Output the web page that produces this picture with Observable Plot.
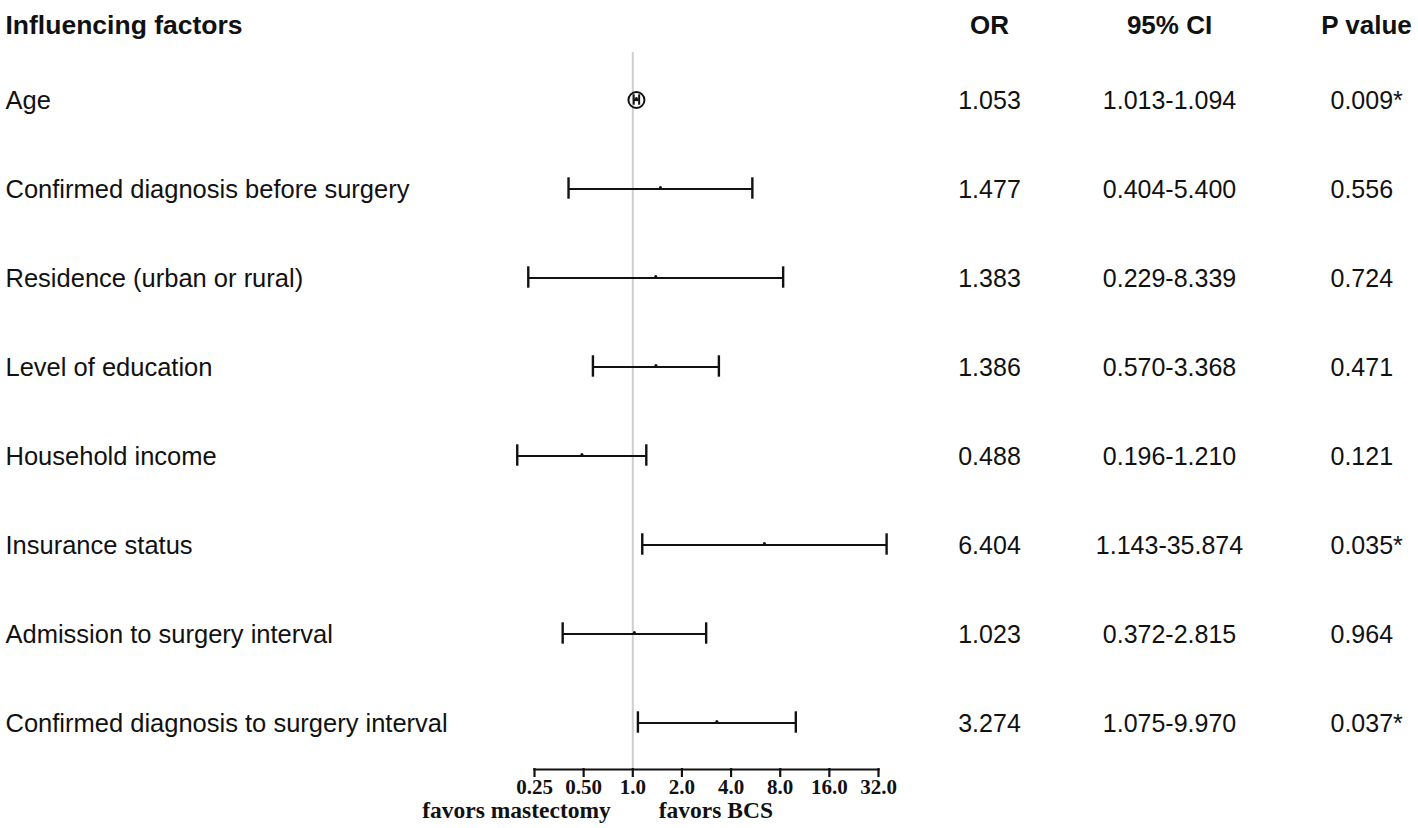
<!DOCTYPE html>
<html>
<head>
<meta charset="utf-8">
<script src="https://cdn.jsdelivr.net/npm/d3@7"></script>
<script src="https://cdn.jsdelivr.net/npm/@observablehq/plot@0.6"></script>
<style>
  html, body { margin: 0; padding: 0; background: #fff; }
  #chart svg { display: block; }
</style>
</head>
<body>
<div id="chart"></div>
<script>
const factors = [
  "Age",
  "Confirmed diagnosis before surgery",
  "Residence (urban or rural)",
  "Level of education",
  "Household income",
  "Insurance status",
  "Admission to surgery interval",
  "Confirmed diagnosis to surgery interval"
];
const oddsRatios = [1.053, 1.477, 1.383, 1.386, 0.488, 6.404, 1.023, 3.274];
const ciLower = [1.013, 0.404, 0.229, 0.570, 0.196, 1.143, 0.372, 1.075];
const ciUpper = [1.094, 5.400, 8.339, 3.368, 1.210, 35.874, 2.815, 9.970];
const pValues = ["0.009*", "0.556", "0.724", "0.471", "0.121", "0.035*", "0.964", "0.037*"];
const headers = ["Influencing factors", "OR", "95% CI", "P value"];
const tickValues = [0.25, 0.5, 1, 2, 4, 8, 16, 32];
const tickLabels = ["0.25", "0.50", "1.0", "2.0", "4.0", "8.0", "16.0", "32.0"];
const favorsLabels = ["favors mastectomy", "favors BCS"];
const referenceOR = 1;

const rows = factors.map((f, i) => ({
  factor: f,
  or: oddsRatios[i],
  lo: ciLower[i],
  hi: ciUpper[i],
  orText: oddsRatios[i].toFixed(3),
  ciText: ciLower[i].toFixed(3) + "-" + ciUpper[i].toFixed(3),
  p: pValues[i],
  highlight: i === 0
}));
const ticks = tickValues.map((v, i) => ({ value: v, label: tickLabels[i] }));

const sans = "'Liberation Sans', Arial, sans-serif";
const serif = "'Liberation Serif', 'Times New Roman', serif";
const ink = "#111";

const chart = Plot.plot({
  width: 1418,
  height: 828,
  marginLeft: 534,
  marginRight: 540,
  marginTop: 52,
  marginBottom: 59,
  style: { background: "#fff", color: ink },
  x: { type: "log", domain: [0.25, 32], axis: null },
  y: { type: "band", domain: factors, paddingInner: 0.5, paddingOuter: 0.2735, axis: null },
  marks: [
    Plot.ruleX([referenceOR], { stroke: "#cfcfcf", strokeWidth: 2 }),
    // x axis: baseline, ticks and labels
    Plot.frame({ anchor: "bottom", stroke: ink, strokeWidth: 2.2 }),
    Plot.tickX(ticks, { x: "value", insetTop: 716, insetBottom: -8, stroke: ink, strokeWidth: 2.2 }),
    Plot.text(ticks, { x: "value", text: "label", frameAnchor: "bottom", lineAnchor: "top", dy: 10, fontFamily: serif, fontWeight: "bold", fontSize: 21, fill: ink }),
    // error bar lines
    Plot.ruleY(rows, { y: "factor", x1: "lo", x2: "hi", stroke: ink, strokeWidth: 2.2 }),
    // caps
    Plot.tickX(rows.filter(d => !d.highlight), { x: "lo", y: "factor", insetTop: 11.3, insetBottom: 12.3, stroke: ink, strokeWidth: 2.4 }),
    Plot.tickX(rows.filter(d => !d.highlight), { x: "hi", y: "factor", insetTop: 11.3, insetBottom: 12.3, stroke: ink, strokeWidth: 2.4 }),
    Plot.tickX(rows.filter(d => d.highlight), { x: "lo", y: "factor", insetTop: 17.3, insetBottom: 17.3, stroke: ink, strokeWidth: 2 }),
    Plot.tickX(rows.filter(d => d.highlight), { x: "hi", y: "factor", insetTop: 17.3, insetBottom: 17.3, stroke: ink, strokeWidth: 2 }),
    // point estimates
    Plot.dot(rows, { x: "or", y: "factor", r: 1.5, fill: ink, stroke: null, dy: -1.5 }),
    Plot.dot(rows.filter(d => d.highlight), { x: "or", y: "factor", r: 8, fill: "none", stroke: ink, strokeWidth: 2 }),
    // table columns
    Plot.text(rows, { y: "factor", text: "factor", frameAnchor: "left", textAnchor: "start", dx: -529, dy: 1, fontFamily: sans, fontSize: 25.5, fill: ink }),
    Plot.text(rows, { y: "factor", text: "orText", frameAnchor: "right", textAnchor: "middle", dx: 111, dy: 1, fontFamily: sans, fontSize: 25, fill: ink }),
    Plot.text(rows, { y: "factor", text: "ciText", frameAnchor: "right", textAnchor: "middle", dx: 291, dy: 1, fontFamily: sans, fontSize: 25, fill: ink }),
    Plot.text(rows, { y: "factor", text: "p", frameAnchor: "right", textAnchor: "start", dx: 452, dy: 1, fontFamily: sans, fontSize: 25, fill: ink }),
    // headers
    Plot.text([headers[0]], { text: d => d, frameAnchor: "top-left", textAnchor: "start", dx: -529, dy: -37, fontFamily: sans, fontWeight: "bold", fontSize: 26.5, fill: ink }),
    Plot.text([headers[1]], { text: d => d, frameAnchor: "top-right", textAnchor: "middle", dx: 111, dy: -37, fontFamily: sans, fontWeight: "bold", fontSize: 26, fill: ink }),
    Plot.text([headers[2]], { text: d => d, frameAnchor: "top-right", textAnchor: "middle", dx: 291, dy: -37, fontFamily: sans, fontWeight: "bold", fontSize: 26, fill: ink }),
    Plot.text([headers[3]], { text: d => d, frameAnchor: "top-right", textAnchor: "middle", dx: 488, dy: -37, fontFamily: sans, fontWeight: "bold", fontSize: 26, fill: ink }),
    // favors labels
    Plot.text([favorsLabels[0]], { x: () => referenceOR, text: d => d, frameAnchor: "bottom", textAnchor: "end", dx: -22, dy: 48, fontFamily: serif, fontWeight: "bold", fontSize: 23.5, fill: ink }),
    Plot.text([favorsLabels[1]], { x: () => referenceOR, text: d => d, frameAnchor: "bottom", textAnchor: "start", dx: 26, dy: 48, fontFamily: serif, fontWeight: "bold", fontSize: 23.5, fill: ink })
  ]
});
document.getElementById("chart").appendChild(chart);
</script>
</body>
</html>
